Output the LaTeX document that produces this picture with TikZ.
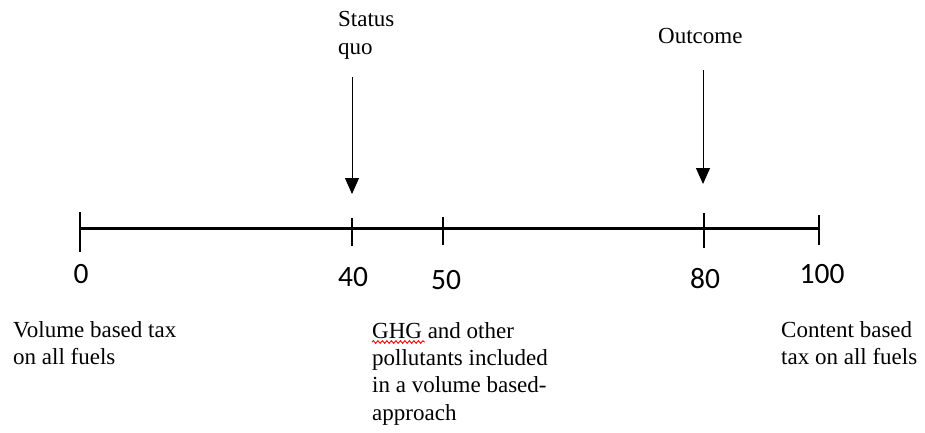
\documentclass[tikz,border=0pt]{standalone}
\usepackage{fontspec}
\setmainfont{Liberation Serif}
\newfontfamily\numfont{Carlito}
\usetikzlibrary{arrows.meta,decorations.pathmorphing}
\begin{document}
\begin{tikzpicture}[x=1pt,y=-1pt,
  axisline/.style={line width=3pt},
  tickmark/.style={line width=2pt},
  pointer/.style={line width=1pt,-{Triangle[width=14pt,length=16pt]}},
  numlabel/.style={font=\numfont\fontsize{29.5}{33}\selectfont,anchor=center,inner sep=0pt},
  txt/.style={font=\fontsize{23}{27.3}\selectfont,align=left,anchor=base west,inner sep=0pt},
  spell/.style={red,line width=0.9pt,decorate,decoration={snake,amplitude=1.3pt,segment length=4.5pt}}]
\useasboundingbox (0,0) rectangle (925,432);
% axis
\coordinate (t0) at (80,228);
\coordinate (t40) at (352,228);
\coordinate (t50) at (443,228);
\coordinate (t80) at (704,228);
\coordinate (t100) at (819,228);
\draw[axisline] (t0) -- (t100);
\draw[tickmark] (80,212) -- (80,252);
\draw[tickmark] (352,218) -- (352,246);
\draw[tickmark] (443,217) -- (443,245);
\draw[tickmark] (704,213) -- (704,248);
\draw[tickmark] (819,215) -- (819,245);
% numbers
\node[numlabel] (n0) at (81,274) {0};
\node[numlabel] (n40) at (353,277) {40};
\node[numlabel] (n50) at (446,280) {50};
\node[numlabel] (n80) at (705,279) {80};
\node[numlabel] (n100) at (822,274) {100};
% top labels and arrows (anchor = baseline of last line)
\node[txt] (sq) at (338,54) {Status\\quo};
\coordinate (a1s) at (352,77);
\coordinate (a1e) at (352,194);
\draw[pointer] (a1s) -- (a1e);
\node[txt] (oc) at (658,43) {Outcome};
\coordinate (a2s) at (703,70);
\coordinate (a2e) at (703,184);
\draw[pointer] (a2s) -- (a2e);
% bottom descriptions
\node[txt] (vb) at (13,364.5) {Volume based tax\\on all fuels};
\node[txt] (ghg) at (372,420) {GHG and other\\pollutants included\\in a volume based-\\approach};
\node[txt] (cb) at (781,364.5) {Content based\\tax on all fuels};
\coordinate (sp1) at (372,342);
\coordinate (sp2) at (425,342);
\draw[spell] (sp1) -- (sp2);
\end{tikzpicture}
\end{document}
